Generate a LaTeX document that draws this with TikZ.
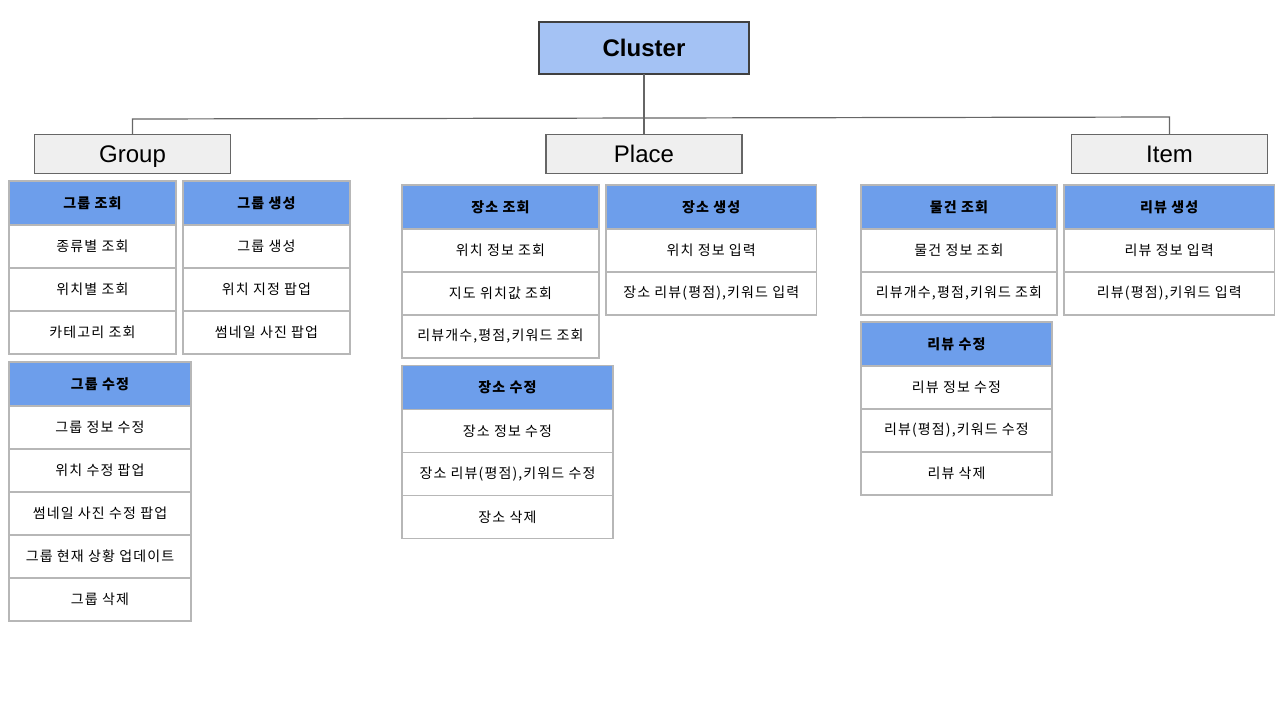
\documentclass[tikz,border=0pt]{standalone}
\usepackage{fontspec}
\setmainfont{Liberation Sans}
\newfontfamily\kr[LetterSpace=8]{Noto Sans CJK KR}
\usetikzlibrary{positioning}

\definecolor{topblue}{HTML}{A4C2F4}
\definecolor{headblue}{HTML}{6D9EEB}
\definecolor{boxgray}{HTML}{EFEFEF}
\definecolor{cellline}{HTML}{B7B7B7}
\definecolor{linkgray}{HTML}{666666}

\begin{document}
\begin{tikzpicture} [
    x = 1pt, y = -1pt,
    root/.style = {draw = black!75, fill = topblue, line width = 1.2pt, minimum width = 210pt,
        minimum height = 52pt, outer sep = 0pt, text height = 17.2pt, text depth = 0pt,
        font = \fontsize{24}{28}\selectfont\bfseries},
    category/.style = {draw = linkgray, fill = boxgray, line width = 1.5pt, minimum width = 196pt,
        minimum height = 39pt, outer sep = 0pt, text height = 17.2pt, text depth = 0pt,
        font = \fontsize{24}{28}\selectfont},
    cell/.style = {draw = cellline, fill = white, line width = 1.5pt, minimum width = #1,
        minimum height = 43pt, inner sep = 0pt, outer sep = 0pt, font = \kr\fontsize{14}{16}\selectfont},
    head/.style = {cell = #1, fill = headblue, minimum height = 44pt, anchor = north,
        font = \kr\fontsize{14}{16}\selectfont\bfseries},
    link/.style = {draw = linkgray, line width = 1.2pt}
]
\useasboundingbox (0,0) rectangle (1284,724);

% top and categories
\node (cl) at (644,48) [root] {Cluster};
\node (grp) at (132.5,154) [category] {Group};
\node (plc) at (644,154) [category] {Place};
\node (itm) at (1169.5,154) [category] {Item};
\coordinate (jl) at (132.5,119);
\coordinate (jr) at (1169.5,117);
\draw [link] (cl.south) -- (plc.north);
\draw [link] (grp.north) -- (jl) -- (jr) -- (itm.north);

% group
\node (gq0) at (92.5,181) [head = 167pt] {그룹 조회};
\foreach \t [count = \i, remember = \i as \j (initially 0)] in {종류별 조회, 위치별 조회, 카테고리 조회}
    \node (gq\i) [cell = 167pt, below = 0pt of gq\j] {\t};
\node (gc0) at (266.5,181) [head = 167pt] {그룹 생성};
\foreach \t [count = \i, remember = \i as \j (initially 0)] in {그룹 생성, 위치 지정 팝업, 썸네일 사진 팝업}
    \node (gc\i) [cell = 167pt, below = 0pt of gc\j] {\t};
\node (gu0) at (100,362) [head = 182pt] {그룹 수정};
\foreach \t [count = \i, remember = \i as \j (initially 0)] in {그룹 정보 수정, 위치 수정 팝업, 썸네일 사진 수정 팝업, 그룹 현재 상황 업데이트, 그룹 삭제}
    \node (gu\i) [cell = 182pt, below = 0pt of gu\j] {\t};

% place
\node (pq0) at (500.5,185) [head = 197pt] {장소 조회};
\foreach \t [count = \i, remember = \i as \j (initially 0)] in {위치 정보 조회, 지도 위치값 조회, {리뷰개수,평점,키워드 조회}}
    \node (pq\i) [cell = 197pt, below = 0pt of pq\j] {\t};
\node (pc0) at (711.25,185) [head = 210.5pt] {장소 생성};
\foreach \t [count = \i, remember = \i as \j (initially 0)] in {위치 정보 입력, {장소 리뷰(평점),키워드 입력}}
    \node (pc\i) [cell = 210.5pt, below = 0pt of pc\j] {\t};
\node (pu0) at (507.5,365.5) [head = 211pt] {장소 수정};
\foreach \t [count = \i, remember = \i as \j (initially 0)] in {장소 정보 수정, {장소 리뷰(평점),키워드 수정}, 장소 삭제}
    \node (pu\i) [cell = 211pt, below = 0pt of pu\j] {\t};

% item
\node (iq0) at (959,185) [head = 196pt] {물건 조회};
\foreach \t [count = \i, remember = \i as \j (initially 0)] in {물건 정보 조회, {리뷰개수,평점,키워드 조회}}
    \node (iq\i) [cell = 196pt, below = 0pt of iq\j] {\t};
\node (ic0) at (1169.25,185) [head = 210.5pt] {리뷰 생성};
\foreach \t [count = \i, remember = \i as \j (initially 0)] in {리뷰 정보 입력, {리뷰(평점),키워드 입력}}
    \node (ic\i) [cell = 210.5pt, below = 0pt of ic\j] {\t};
\node (iu0) at (956.5,322) [head = 191pt] {리뷰 수정};
\foreach \t [count = \i, remember = \i as \j (initially 0)] in {리뷰 정보 수정, {리뷰(평점),키워드 수정}, 리뷰 삭제}
    \node (iu\i) [cell = 191pt, below = 0pt of iu\j] {\t};

\end{tikzpicture}
\end{document}
